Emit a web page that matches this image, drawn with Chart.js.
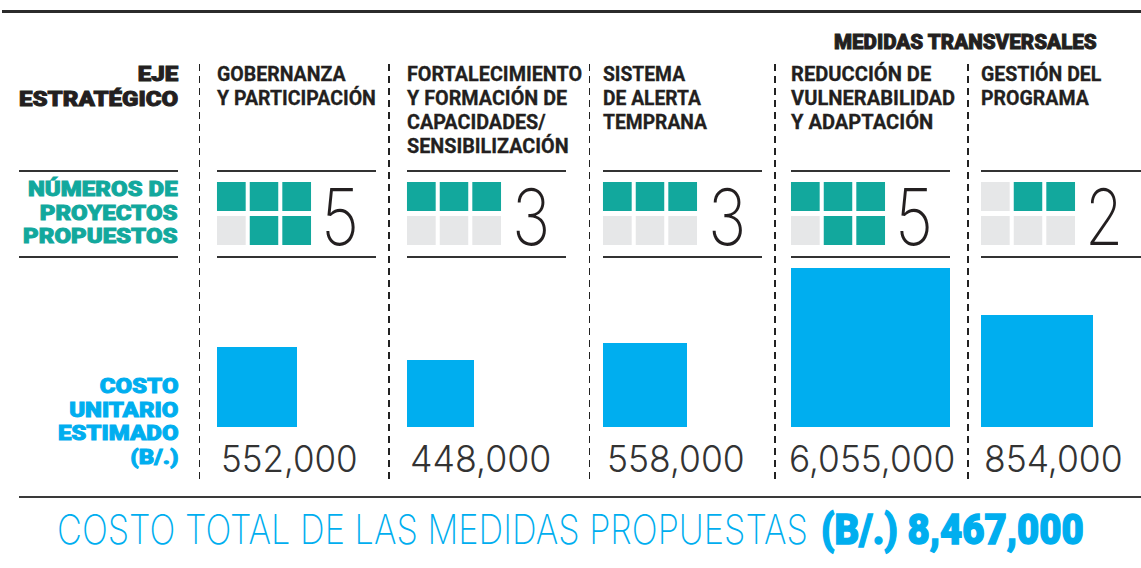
<!DOCTYPE html>
<html><head><meta charset="utf-8">
<script src="https://cdn.jsdelivr.net/npm/chart.js@4"></script>
<style>
html,body{margin:0;padding:0;background:#fff;}
#stage{position:relative;width:1141px;height:568px;overflow:hidden;background:#fff;}
.t{position:absolute;white-space:pre;}
.hl{position:absolute;background:#333;}
.dash{position:absolute;width:1.5px;background:repeating-linear-gradient(to bottom,#222 0 7px,rgba(0,0,0,0) 7px 12px);}
canvas{position:absolute;}
</style></head><body><div id="stage"></div>
<script>
// ---------- DATA ----------
const ejes = [
  ['GOBERNANZA','Y PARTICIPACIÓN'],
  ['FORTALECIMIENTO','Y FORMACIÓN DE','CAPACIDADES/','SENSIBILIZACIÓN'],
  ['SISTEMA','DE ALERTA','TEMPRANA'],
  ['REDUCCIÓN DE','VULNERABILIDAD','Y ADAPTACIÓN'],
  ['GESTIÓN DEL','PROGRAMA']
];
const numProyectos = [5, 3, 3, 5, 2];
const costoUnitario = [552000, 448000, 558000, 6055000, 854000];
// relative side of each cost square (largest = 100)
const ladoRelativo = [50.3, 42.1, 52.8, 100, 70.4];
const costoTotal = 8467000;
const rotuloEje = ['EJE','ESTRATÉGICO'];
const rotuloProyectos = ['NÚMEROS DE','PROYECTOS','PROPUESTOS'];
const rotuloCosto = ['COSTO','UNITARIO','ESTIMADO','(B/.)'];
const rotuloTransversal = 'MEDIDAS TRANSVERSALES';
const rotuloTotal = 'COSTO TOTAL DE LAS MEDIDAS PROPUESTAS';
const rotuloTotalUnidad = '(B/.)';

// ---------- LAYOUT ----------
const stage = document.getElementById('stage');
const colLeft = [217, 407, 603, 791, 981];
const dashX = [199.5, 389, 589.5, 775, 968];
const headW = [159, 175, 104, 164, 120];
const digitLeft = [321, 512, 708, 895, 1085];
const numLeft = [221, 410, 607, 789, 984];
const numW = [137, 141, 138, 166, 139];
const TEAL = '#12a89d', GRAY = '#e6e7e8', BLUE = '#00aeef', INK = '#231f20';
const COND = 'Roboto, "Liberation Sans", "DejaVu Sans", sans-serif';
const THIN = 'Inter, Roboto, "Open Sans", sans-serif';

function txt(lines, o){
  const d = document.createElement('div');
  d.className = 't';
  d.style.font = `${o.weight} ${o.size}px ${o.family}`;
  d.style.lineHeight = (o.lh || o.size) + 'px';
  d.style.color = o.color;
  d.style.textAlign = o.align || 'left';
  if (o.stroke) d.style.webkitTextStroke = o.stroke + 'px ' + o.color;
  d.textContent = lines.join('\n');
  const m = document.createElement('span');
  m.style.cssText = 'display:inline-block;width:0;height:0;vertical-align:baseline';
  d.insertBefore(m, d.firstChild);
  stage.appendChild(d);
  const base = m.offsetTop;
  const w = d.offsetWidth;
  const sx = o.width ? o.width / w : 1;
  d.style.top = (o.baseline - base) + 'px';
  if (o.align === 'right') {
    d.style.left = (o.right - w) + 'px';
    d.style.transformOrigin = 'right top';
  } else {
    d.style.left = o.x + 'px';
    d.style.transformOrigin = 'left top';
  }
  d.style.transform = `scaleX(${sx})`;
  return d;
}
function hline(x1, x2, y, h, c){
  const d = document.createElement('div');
  d.className = 'hl';
  d.style.left = x1 + 'px'; d.style.width = (x2 - x1) + 'px';
  d.style.top = (y - h/2) + 'px'; d.style.height = h + 'px';
  if (c) d.style.background = c;
  stage.appendChild(d);
}

// rules
hline(2, 1141, 11, 3, '#2b2b2b');
hline(19, 1141, 497, 2, '#3a3a3a');
[171, 257].forEach(y => {
  hline(19, 178, y, 1.5);
  colLeft.forEach((x, i) => hline(x, i === 4 ? 1141 : x + 159, y, 1.5));
});
dashX.forEach(x => {
  const d = document.createElement('div');
  d.className = 'dash';
  d.style.left = (x - 0.75) + 'px';
  d.style.top = '64px'; d.style.height = '418px';
  stage.appendChild(d);
});

// left labels
txt(rotuloEje, {align:'right', right:178, baseline:81, size:20, lh:24.5, weight:900, family:COND, color:INK, width:159, stroke:0.9});
txt(rotuloProyectos, {align:'right', right:178, baseline:196, size:20, lh:23.7, weight:900, family:COND, color:TEAL, width:155, stroke:0.9});
txt(rotuloCosto, {align:'right', right:178, baseline:393.3, size:20, lh:23.4, weight:900, family:COND, color:BLUE, width:120, stroke:0.9});
txt([rotuloTransversal], {x:834, baseline:49, size:21, weight:900, family:COND, color:INK, width:263, stroke:0.9});

// headers, digits, cost labels
ejes.forEach((lines, i) => {
  txt(lines, {x:colLeft[i], baseline:81, size:20, lh:24, weight:700, family:COND, color:INK, width:headW[i], stroke:0.3});
  txt([String(numProyectos[i])], {x:digitLeft[i], baseline:245, size:78, weight:200, family:THIN, color:'#231f20', width:38});
  txt([costoUnitario[i].toLocaleString('en-US')], {x:numLeft[i], baseline:472, size:37, weight:300, family:THIN, color:'#333', width:numW[i]});
});

// total
txt([rotuloTotal], {x:57, baseline:544, size:41, weight:200, family:THIN, color:BLUE, width:751});
txt([rotuloTotalUnidad + ' ' + costoTotal.toLocaleString('en-US')], {x:821, baseline:544, size:42, weight:900, family:COND, color:BLUE, width:263, stroke:1.4});

// ---------- CHARTS ----------
function makeCanvas(x, y, w, h){
  const c = document.createElement('canvas');
  c.width = w; c.height = h;
  c.style.left = x + 'px'; c.style.top = y + 'px';
  c.style.width = w + 'px'; c.style.height = h + 'px';
  stage.appendChild(c);
  return c;
}
const baseOpts = {
  responsive:false, animation:false, devicePixelRatio:1,
  layout:{padding:0},
  plugins:{legend:{display:false}, tooltip:{enabled:false}}
};

// project grids: 3 columns x 2 rows, filled right-to-left, top row first
numProyectos.forEach((n, i) => {
  const cv = makeCanvas(colLeft[i] - 2, 177, 98, 68);
  const filledTop = idx => (2 - idx) < Math.min(n, 3);
  const filledBottom = idx => (2 - idx) < Math.max(n - 3, 0);
  new Chart(cv, {
    type:'bar',
    data:{
      labels:['a','b','c'],
      datasets:[
        {label:'fila inferior', data:[1,1,1], backgroundColor: c => filledBottom(c.dataIndex) ? TEAL : GRAY},
        {label:'fila superior', data:[1,1,1], backgroundColor: c => filledTop(c.dataIndex) ? TEAL : GRAY}
      ].map(d => Object.assign(d, {
        borderColor:'#fff', borderWidth:{top:5, left:0, right:0, bottom:0}, borderSkipped:false,
        barPercentage:29/32.67, categoryPercentage:1, inflateAmount:0
      }))
    },
    options:Object.assign({}, baseOpts, {
      scales:{
        x:{display:false, stacked:true},
        y:{display:false, stacked:true, min:0, max:2}
      }
    })
  });
});

// cost squares
const maxLado = Math.max(...ladoRelativo);
const H = 159;
ladoRelativo.forEach((v, i) => {
  const side = Math.round(v / maxLado * H);
  const cv = makeCanvas(colLeft[i], 427 - H, side, H);
  new Chart(cv, {
    type:'bar',
    data:{labels:[ejes[i].join(' ')], datasets:[{label:'costo', data:[v], backgroundColor:BLUE, barPercentage:1, categoryPercentage:1, inflateAmount:0, borderWidth:0}]},
    options:Object.assign({}, baseOpts, {
      scales:{x:{display:false}, y:{display:false, min:0, max:maxLado}}
    })
  });
});
</script>
</body></html>
